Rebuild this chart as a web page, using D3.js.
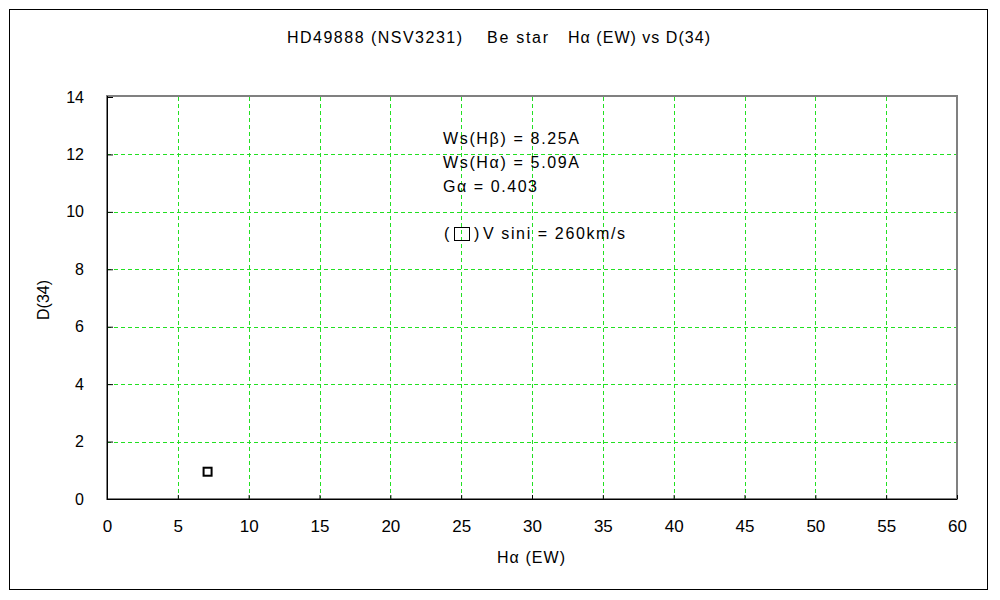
<!DOCTYPE html>
<html><head><meta charset="utf-8">
<script src="https://cdn.jsdelivr.net/npm/d3@7"></script>
<style>body{margin:0;background:#fff}text{font-family:"Liberation Sans","DejaVu Sans",sans-serif;fill:#000}</style>
</head><body>
<svg id="c" width="1000" height="600"></svg>
<script>
const titleParts = ["HD49888 (NSV3231)", "Be star", "Hα (EW) vs D(34)"];
const xLabel = "Hα (EW)";
const yLabel = "D(34)";
const xTicks = [0,5,10,15,20,25,30,35,40,45,50,55,60];
const yTicks = [0,2,4,6,8,10,12,14];
const pointsX = [7.1];
const pointsY = [0.95];
const notes = ["Ws(Hβ) = 8.25A", "Ws(Hα) = 5.09A", "Gα = 0.403"];
const legendNote = "V sini = 260km/s";

const svg = d3.select("#c");
const L=107, R=957, T=97, B=499;
const x = d3.scaleLinear().domain([0,60]).range([L,R]);
const y = d3.scaleLinear().domain([0,14]).range([B,T]);

svg.append("rect").attr("x",9.5).attr("y",9.5).attr("width",978).attr("height",580)
  .attr("fill","none").attr("stroke","#000").attr("stroke-width",1);

// grid
const grid = svg.append("g");
grid.selectAll(".vx").data(xTicks.filter(d=>d>0&&d<60)).join("line")
  .attr("x1",d=>Math.round(x(d))+0.5).attr("x2",d=>Math.round(x(d))+0.5)
  .attr("y1",T).attr("y2",B)
  .attr("stroke","#22e022").attr("stroke-width",1).attr("stroke-dasharray","4,3");
grid.selectAll(".hy").data(yTicks.filter(d=>d>0&&d<14)).join("line")
  .attr("y1",d=>Math.round(y(d))+0.5).attr("y2",d=>Math.round(y(d))+0.5)
  .attr("x1",L).attr("x2",R)
  .attr("stroke","#22e022").attr("stroke-width",1).attr("stroke-dasharray","4,3");

// plot frame
svg.append("rect").attr("x",L).attr("y",T-1).attr("width",R-L).attr("height",B-T+1)
  .attr("fill","none").attr("stroke","#808080").attr("stroke-width",2);

// axes
const xAxis = d3.axisBottom(x).tickValues(xTicks).tickSize(-4).tickPadding(18).tickFormat(d3.format("d"));
const gx = svg.append("g").attr("transform",`translate(0,${B})`).call(xAxis);
gx.select(".domain").attr("stroke","#000").attr("d",`M${L},0.5H${R}`);
gx.selectAll(".tick line").attr("stroke","#000");
gx.selectAll("text").attr("font-size",17).attr("dy","0.9em");

const yAxis = d3.axisLeft(y).tickValues(yTicks).tickSize(-6).tickPadding(23).tickFormat(d3.format("d"));
const gy = svg.append("g").attr("transform",`translate(${L},0)`).call(yAxis);
gy.select(".domain").attr("stroke","#000").attr("d",`M0.5,${T-1}V${B}`);
gy.selectAll(".tick line").attr("stroke","#000");
gy.selectAll("text").attr("font-size",16);
svg.selectAll(".tick text").attr("font-family",'"Liberation Sans","DejaVu Sans",sans-serif').attr("fill","#000");

// title & labels
const titleX = [287, 487, 568], titleW = [175, 61, 142];
svg.selectAll(".title").data(titleParts).join("text").attr("class","title")
  .attr("x",(d,i)=>titleX[i]).attr("y",43).attr("font-size",16)
  .attr("textLength",(d,i)=>titleW[i]).attr("lengthAdjust","spacing").text(d=>d);
svg.append("text").attr("x",497).attr("y",563).attr("font-size",16)
  .attr("textLength",68).attr("lengthAdjust","spacing").text(xLabel);
svg.append("text").attr("transform","translate(49,300) rotate(-90)").attr("text-anchor","middle").attr("font-size",16).text(yLabel);

// notes
const noteW = [136, 136, 94];
svg.selectAll(".note").data(notes).join("text").attr("class","note")
  .attr("x",443).attr("y",(d,i)=>144+i*24).attr("font-size",16)
  .attr("textLength",(d,i)=>noteW[i]).attr("lengthAdjust","spacing").text(d=>d);
svg.append("text").attr("x",444).attr("y",239).attr("font-size",16).text("(");
svg.append("rect").attr("x",454.5).attr("y",227.5).attr("width",15).attr("height",13).attr("fill","none").attr("stroke","#000").attr("stroke-width",1);
svg.append("text").attr("x",474).attr("y",239).attr("font-size",16).text(")");
svg.append("text").attr("x",483).attr("y",239).attr("font-size",16)
  .attr("textLength",142).attr("lengthAdjust","spacing").text(legendNote);

// points
svg.selectAll(".pt").data(pointsX.map((v,i)=>[v,pointsY[i]])).join("rect").attr("class","pt")
  .attr("x",d=>x(d[0])-4).attr("y",d=>y(d[1])-4).attr("width",8).attr("height",8)
  .attr("fill","#fff").attr("stroke","#000").attr("stroke-width",2);
</script>
</body></html>
